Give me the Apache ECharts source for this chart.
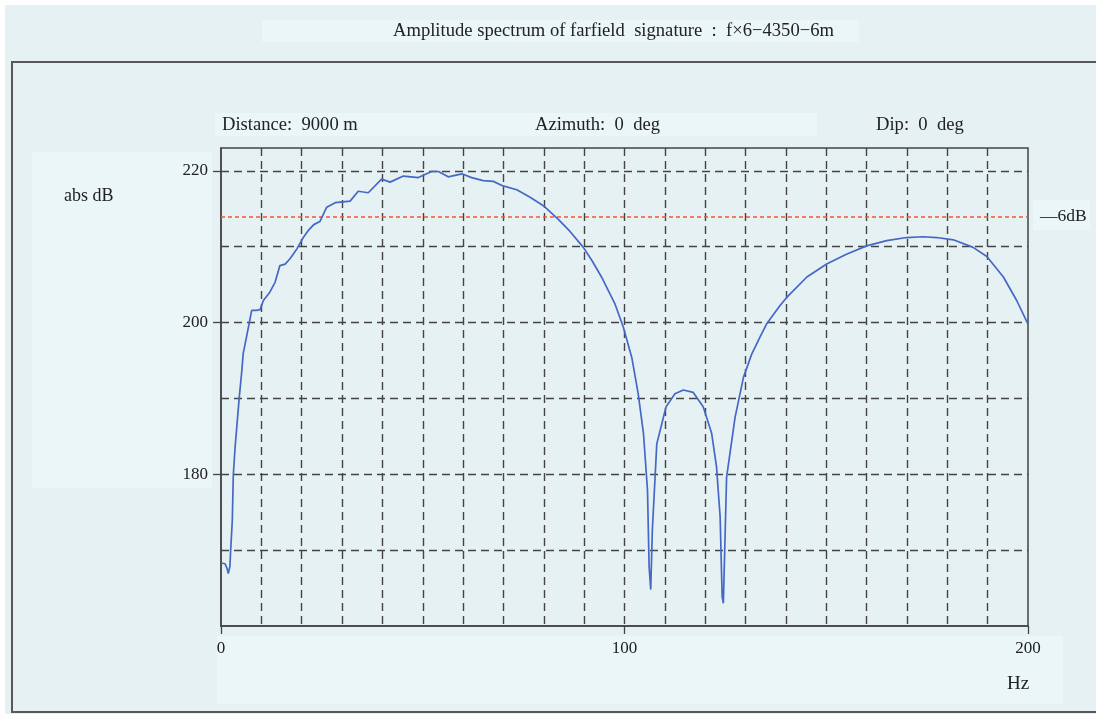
<!DOCTYPE html>
<html>
<head>
<meta charset="utf-8">
<title>Amplitude spectrum of farfield signature</title>
<script src="https://cdn.jsdelivr.net/npm/echarts@6/dist/echarts.min.js"></script>
<style>
  html, body { margin: 0; padding: 0; background: #ffffff; }
  #chart { width: 1096px; height: 714px; }
</style>
</head>
<body>
<div id="chart"></div>
<script>
// Far-field amplitude spectrum, frequency (Hz) against level (abs dB)
const freqs = [
  0, 1.0, 1.5, 1.8, 2.2, 2.4, 2.8, 3.05, 3.5, 4.05, 4.5, 5.1, 5.5, 6.4, 6.8, 7.6,
  8.8, 9.7, 10.5, 12.1, 13.4, 14.6, 15.9, 17.1, 18.8, 20.4, 21.6, 23.0, 24.5, 26.2,
  28.3, 32.0, 34.0, 36.5, 39.8, 41.9, 45.2, 48.9, 52.2, 53.9, 56.3, 59.7, 62.1, 65.0,
  67.5, 69.9, 73.3, 76.6, 79.9, 83.6, 86.5, 89.8, 92.0, 94.3, 97.6, 99.7, 101.8, 103.4,
  104.7, 105.7, 106.1, 106.5, 106.9, 108.0, 110.3, 112.5, 114.6, 117.0, 119.5, 121.6,
  122.8, 123.7, 124.2, 124.5, 125.3, 127.4, 129.5, 131.5, 133.6, 135.2, 138.5, 140.2,
  145.2, 150.1, 155.0, 160.0, 165.0, 169.9, 174.0, 177.4, 181.5, 186.4, 189.8, 193.9,
  197.2, 200
];
const levels = [
  168.3, 168.2, 167.6, 166.9, 167.8, 170.0, 173.9, 179.9, 183.6, 187.1, 190.0, 193.3, 195.9, 198.3, 199.4, 201.6,
  201.6, 201.7, 202.9, 204.0, 205.3, 207.5, 207.7, 208.4, 209.7, 211.2, 212.1, 212.9, 213.3, 215.2,
  215.8, 216.0, 217.3, 217.1, 218.9, 218.5, 219.3, 219.1, 219.9, 219.9, 219.2, 219.6, 219.1, 218.7,
  218.6, 218.0, 217.5, 216.5, 215.4, 213.6, 212.0, 209.9, 208.1, 206.0, 202.5, 199.4, 195.4, 190.6,
  185.4, 177.9, 167.8, 164.8, 172.6, 184.0, 188.9, 190.6, 191.1, 190.8, 188.9, 185.4,
  181.0, 174.4, 163.9, 163.0, 179.6, 187.5, 192.8, 195.8, 198.1, 199.8, 202.2, 203.3,
  206.0, 207.7, 209.0, 210.1, 210.8, 211.2, 211.3, 211.2, 210.9, 209.9, 208.7, 206.0,
  202.9, 199.8
];
const xTickLabels = [0, 100, 200];
const yTickLabels = [180, 200, 220];
const halfPowerLevel = 214;   // peak minus 6 dB

const titleText = 'Amplitude spectrum of farfield  signature  :  f\u00d76\u22124350\u22126m';
const infoTexts = ['Distance:  9000 m', 'Azimuth:  0  deg', 'Dip:  0  deg'];
const yName = 'abs dB';
const xName = 'Hz';
const halfPowerName = '\u20146dB';

const FONT = '"Liberation Serif", "DejaVu Serif", serif';
const INK = '#222222';
const GRID_INK = '#444444';
const PANEL = '#ebf6f8';

const chart = echarts.init(document.getElementById('chart'), null, { renderer: 'canvas' });

const label = (x, y, text, size) => ({
  type: 'text', x: x, y: y, z: 10,
  style: { text: text, fill: INK, font: size + 'px ' + FONT, textAlign: 'left', textVerticalAlign: 'middle' }
});
const panel = (x, y, w, h) => ({
  type: 'rect', z: 0, shape: { x: x, y: y, width: w, height: h },
  style: { fill: PANEL }
});

const X_MIN = 0, X_MAX = 200, Y_MIN = 160, Y_MAX = 223;
const dashed = { show: true, showMinLine: false, showMaxLine: false,
  lineStyle: { color: GRID_INK, width: 1.4, type: [8, 5] } };
const solidAxis = { show: true, lineStyle: { color: GRID_INK, width: 1.5 } };
const tickText = (margin) => ({ color: INK, fontFamily: FONT, fontSize: 17, margin: margin });

chart.setOption({
  backgroundColor: '#e6f1f3',
  animation: false,
  graphic: [
    { type: 'rect', z: 0, shape: { x: 0, y: 0, width: 1096, height: 5 }, style: { fill: '#ffffff' } },
    { type: 'rect', z: 0, shape: { x: 0, y: 0, width: 5, height: 714 }, style: { fill: '#ffffff' } },
    { type: 'rect', z: 1, shape: { x: 12, y: 62, width: 1100, height: 650 },
      style: { fill: null, stroke: '#585858', lineWidth: 2 } },
    panel(262, 20, 597, 22),
    panel(215, 113, 602, 23),
    panel(32, 152, 180, 336),
    panel(1033, 200, 57, 30),
    panel(217, 636, 846, 68),
    label(393, 31, titleText, 18.6),
    label(222, 125, infoTexts[0], 18.6),
    label(535, 125, infoTexts[1], 18.6),
    label(876, 125, infoTexts[2], 18.6),
    label(64, 196, yName, 18),
    label(1007, 684, xName, 19)
  ],
  grid: {
    left: 221, top: 148, width: 807, height: 478,
    show: true, borderColor: GRID_INK, borderWidth: 1.5, backgroundColor: 'transparent'
  },
  xAxis: [
    { // 10 Hz grid
      type: 'value', min: X_MIN, max: X_MAX, interval: 10,
      axisLine: solidAxis, axisTick: { show: false }, axisLabel: { show: false },
      splitLine: dashed
    },
    { // labelled ticks
      type: 'value', min: X_MIN, max: X_MAX, position: 'bottom',
      axisLine: { show: false },
      axisTick: { show: true, customValues: xTickLabels, length: 8, lineStyle: { color: GRID_INK, width: 1.3 } },
      axisLabel: Object.assign({ customValues: xTickLabels }, tickText(14)),
      splitLine: { show: false }
    }
  ],
  yAxis: [
    { // 10 dB grid
      type: 'value', min: Y_MIN, max: Y_MAX, interval: 10,
      axisLine: solidAxis, axisTick: { show: false }, axisLabel: { show: false },
      splitLine: dashed
    },
    { // labelled ticks
      type: 'value', min: Y_MIN, max: Y_MAX, position: 'left',
      axisLine: { show: false },
      axisTick: { show: true, customValues: yTickLabels, length: 8, lineStyle: { color: GRID_INK, width: 1.3 } },
      axisLabel: Object.assign({ customValues: yTickLabels }, tickText(13)),
      splitLine: { show: false }
    }
  ],
  series: [{
    type: 'line',
    xAxisIndex: 0,
    yAxisIndex: 0,
    data: freqs.map((f, i) => [f, levels[i]]),
    showSymbol: false,
    smooth: false,
    lineStyle: { color: '#4568c6', width: 1.7 },
    z: 5,
    markLine: {
      silent: true,
      symbol: 'none',
      lineStyle: { color: '#f5552e', width: 1.6, type: [4, 3] },
      label: { show: true, position: 'end', distance: 12, formatter: halfPowerName,
        color: INK, fontFamily: FONT, fontSize: 17.5 },
      data: [{ yAxis: halfPowerLevel }]
    }
  }]
});
</script>
</body>
</html>
